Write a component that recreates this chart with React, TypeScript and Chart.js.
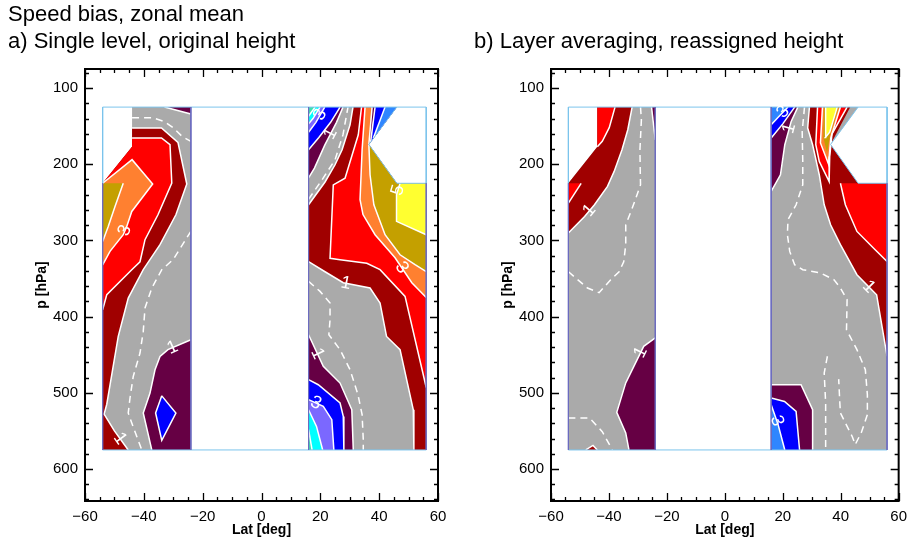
import React, { useEffect, useRef } from 'react';
import { Chart, registerables } from 'chart.js';

Chart.register(...registerables);

type Pt = [number, number];

const FONT = '"Liberation Sans", Arial, Helvetica, sans-serif';

// ---------- axes ----------
const LAT_MIN = -60;
const LAT_MAX = 60;
const LAT_TICKS = [-60, -40, -20, 0, 20, 40, 60];
const LAT_MINOR_STEP = 5;
const P_MIN = 75;
const P_MAX = 642;
const P_TICKS = [100, 200, 300, 400, 500, 600];
const P_MINOR_STEP = 20;

// ---------- grid extent (lat in deg, p in hPa) ----------
const LAT_W: Pt = [-54, -24];
const LAT_E: Pt = [16, 56];
const P_TOP = 125;
const P_BOT = 575;
// borders of the missing-data corners
const W_GAP: Pt[] = [[-44, 177], [-54, 225]];
const E_GAP: Pt[] = [[46, 125], [36.5, 174], [46, 225], [56, 225]];

// ---------- colour levels ----------
const C = {
  m5: '#40e0b0',
  m4: '#00ffff',
  m3: '#7b68ff',
  m3b: '#2f86ff',
  m2: '#0000ff',
  m1: '#660044',
  z: '#aaaaaa',
  p1: '#a00000',
  p2: '#ff0000',
  p3: '#ff8030',
  p4: '#c4a000',
  p5: '#ffff30',
};

// ================= a) single level, original height =================
// west block
const A_W_1: Pt[] = [[-44, 152.5], [-34, 152.5], [-28.4, 171.4], [-25.4, 226], [-29.1, 266.3], [-34.5, 305.6], [-40.2, 338.4], [-45.3, 375.6], [-48.7, 426], [-52.6, 515], [-53.5, 528], [-50, 550], [-45.3, 575]];
const A_W_2: Pt[] = [[-44, 165.6], [-34, 165.6], [-31.1, 174.4], [-30.5, 224.7], [-35.2, 266.3], [-39.6, 299], [-41.3, 328], [-44.1, 338.4], [-52.6, 371.3], [-54, 391]];
const A_W_3: Pt[] = [[-54, 225], [-44, 194], [-37, 226], [-44.1, 262], [-45.8, 281.6], [-47, 292.5], [-51.5, 314.4], [-54, 332]];
const A_W_4: Pt[] = [[-47, 225], [-49.8, 255.4], [-52.1, 281.6], [-54, 301.3]];
const A_W_M1A: Pt[] = [[-33, 125], [-24, 134]];
const A_W_M1B: Pt[] = [[-24, 430.3], [-31.8, 443.4], [-34.5, 452.3], [-36.2, 469.7], [-37.9, 500.3], [-40.2, 526.5], [-37.3, 575]];
const A_W_M2: Pt[] = [[-33.9, 504], [-29.1, 526.5], [-33.9, 562.5], [-36, 526.5]];
const A_W_0A: Pt[] = [[-44, 139], [-37, 139], [-33, 144], [-30, 152], [-27, 163.5], [-24, 170]];
const A_W_0B: Pt[] = [[-24, 288], [-30, 325], [-33.9, 338.4], [-37.3, 362.5], [-39.6, 388.7], [-40.2, 419.4], [-41.3, 447.8], [-43.6, 478.5], [-44.7, 506.8], [-45.3, 526.5], [-44.1, 539.6], [-42.4, 557.2], [-40.7, 575]];
// east block
const A_E_1U: Pt[] = [[16, 253.2], [21.6, 223.3], [25, 200.7], [27.4, 181], [30.1, 148.2], [31.1, 125]];
const A_E_1L: Pt[] = [[16, 327.9], [21.6, 341.1], [27.8, 355.5], [36.9, 362.5], [40.3, 382.1], [42.5, 426], [47.1, 443.4], [51.6, 522.2], [51.8, 575]];
const A_E_2: Pt[] = [[34, 125], [32.9, 161.3], [28.4, 218.4], [24.4, 227.2], [23.3, 323.4], [26.7, 325.3], [35.8, 329.9], [40.3, 338.4], [48.8, 373.5], [56, 493]];
const A_E_3: Pt[] = [[35.2, 125], [34.2, 181], [33.5, 246.6], [34.5, 266], [38.6, 292.5], [45.4, 322.7], [51.1, 355.5], [56, 375]];
const A_E_4: Pt[] = [[36.5, 174], [36.9, 213.8], [38.2, 253.2], [42, 292.5], [47.1, 318.8], [52.2, 331.9], [56, 341]];
const A_E_5: Pt[] = [[47.1, 225], [45.9, 240], [45.9, 275], [56, 292.5]];
const A_E_M1A: Pt[] = [[27.7, 125], [25.5, 145], [21.5, 175], [18, 205], [16, 218]];
const A_E_M2A: Pt[] = [[26.7, 125], [23.5, 145], [19.5, 165], [16, 181]];
const A_E_M3A: Pt[] = [[21.5, 125], [18.5, 145], [16, 158]];
const A_E_M4A: Pt[] = [[19.9, 125], [17.5, 140], [16, 147]];
const A_E_M5A: Pt[] = [[18.2, 125], [16, 137]];
const A_E_M1W: Pt[] = [[37.6, 125], [36.5, 174]];
const A_E_M2W: Pt[] = [[38.6, 125], [37.1, 171]];
const A_E_M3W: Pt[] = [[42, 125], [38, 166]];
const A_E_M1B: Pt[] = [[16, 423.8], [21, 465.3], [26.7, 487.2], [30.7, 522.2], [31.2, 575]];
const A_E_M2B: Pt[] = [[16, 482.8], [19.3, 489.4], [26.7, 513.4], [27.8, 531], [28, 575]];
const A_E_M3B: Pt[] = [[16, 509], [21, 517.8], [23.9, 535.3], [24.6, 575]];
const A_E_M4B: Pt[] = [[16, 522.2], [18.7, 544.1], [20.8, 575]];
const A_E_M5B: Pt[] = [[16, 548.4], [17.2, 575]];
const A_E_0A: Pt[] = [[16, 246], [20.6, 220.3], [25, 194.1], [27.7, 161.3], [29.4, 125]];
const A_E_0B: Pt[] = [[16, 353.8], [19.9, 366.9], [23.3, 382.1], [23.3, 404], [22.9, 423.7], [26.7, 443.4], [30.1, 469.7], [32.8, 502.5], [34.2, 528.7], [34.6, 561.5], [34.6, 575]];

// ================= b) layer averaging, reassigned height =================
// west block
const B_W_1: Pt[] = [[-32, 125], [-33.5, 154.7], [-35.5, 181], [-38.2, 209.4], [-40.5, 229.1], [-45, 253.1], [-48.4, 268.5], [-54, 290.3]];
const B_W_2A: Pt[] = [[-37.9, 125], [-39.9, 152], [-42.3, 170], [-44, 177]];
const B_W_2B: Pt[] = [[-49.6, 225], [-54, 251]];
const B_W_1B: Pt[] = [[-48, 575], [-45.5, 569], [-44, 575]];
const B_W_M1A: Pt[] = [[-25.3, 125], [-24, 168]];
const B_W_M1B: Pt[] = [[-24, 428], [-28, 439], [-31.4, 465.3], [-34.2, 487], [-37.3, 525.7], [-34.2, 552.7], [-33.1, 575]];
const B_W_0A: Pt[] = [[-29.1, 125], [-28.8, 141.6], [-29.3, 181], [-29.2, 207.2], [-29.1, 226.9], [-30.9, 246.6], [-32.6, 264], [-34.2, 279.4], [-34.2, 305.6], [-34.9, 328], [-36.5, 341.1], [-39.4, 351.6], [-43.4, 368.6], [-47.4, 362.5], [-54, 341]];
const B_W_0B: Pt[] = [[-54, 533], [-46.7, 533], [-42.3, 551], [-38.8, 575]];
// east block
const B_E_1: Pt[] = [[29.2, 125], [28.6, 152.5], [30.3, 174.4], [32.6, 213.8], [34.3, 253.2], [36.5, 279.4], [39.9, 305.6], [45.6, 345], [52.4, 371.3], [56, 452]];
const B_E_2W: Pt[] = [[32, 125], [42.2, 125], [37, 160], [36.2, 190], [36, 222.6], [32.6, 196.3], [31.4, 174.4]];
const B_E_3W: Pt[] = [[33.7, 125], [39.9, 125], [36.6, 165], [35.8, 200], [33, 172]];
const B_E_4W: Pt[] = [[34.3, 125], [39.3, 125], [36.4, 160], [35.3, 185], [34, 165]];
const B_E_5W: Pt[] = [[34.8, 125], [38.8, 125], [36.2, 158], [34.7, 165]];
const B_E_2: Pt[] = [[39.9, 225], [41.6, 253.2], [45.6, 288.2], [51.8, 312], [56, 327.6]];
const B_E_M1A: Pt[] = [[25.2, 125], [22.9, 143.8], [20.7, 174.4], [19.2, 213.8], [16, 235.7]];
const B_E_M2A: Pt[] = [[24.1, 125], [20, 147], [16, 165.6]];
const B_E_M3A: Pt[] = [[21.8, 125], [18.5, 138], [16, 148.2]];
const B_E_M1B: Pt[] = [[16, 489.4], [26.3, 489.4], [30.3, 522.2], [30.3, 575]];
const B_E_M2B: Pt[] = [[16, 506.8], [20.6, 511.3], [24.6, 524.4], [25.8, 575]];
const B_E_M3B: Pt[] = [[16, 515.6], [18.4, 541.9], [20.7, 575]];
const B_E_0A: Pt[] = [[27.5, 125], [26.7, 157.3], [26.9, 196.3], [26.9, 226.9], [24.6, 253.2], [21.8, 272.8], [21.6, 292.5], [22.4, 314.4], [24.1, 331.9], [26.9, 338.4], [33.1, 342.8], [37.7, 351.6], [39.9, 362.5], [42.2, 377.8], [42, 417.2], [45.6, 443.4], [48.5, 469.7], [49.2, 502.5], [49.2, 528.7], [47.1, 552.3], [45, 568], [44, 557.6], [42.2, 544.1], [39.9, 526.5], [39.7, 513.4], [39.3, 482]];
const B_E_0B: Pt[] = [[35.4, 452], [34.3, 474], [34.8, 513], [34.8, 575]];

// ---------- helpers ----------
const join = (...parts: Pt[][]): Pt[] => ([] as Pt[]).concat(...parts);
const rev = (a: Pt[]): Pt[] => [...a].reverse();
const ring = (a: Pt[]): Pt[] => [...a, a[0]];
const openTop = (a: Pt[]): Pt[] => [...a.slice(1), a[0]];

const GRAY_W: Pt[] = [[W_GAP[0][0], P_TOP], [LAT_W[1], P_TOP], [LAT_W[1], P_BOT], [LAT_W[0], P_BOT], W_GAP[1], W_GAP[0]];
const GRAY_E: Pt[] = [[LAT_E[0], P_TOP], ...E_GAP, [LAT_E[1], P_BOT], [LAT_E[0], P_BOT]];

type Fill = { pts: Pt[]; color: string };
type Line = { pts: Pt[]; color?: string; width?: number; dash?: number[] };
type Label = { on: Pt[]; seg: number; t: number; text: string };
type PanelSpec = { fills: Fill[]; lines: Line[]; labels: Label[] };

const EDGE_LIGHT = '#7cc4ec';
const EDGE_DARK = '#6c6cc0';
const edges: Line[] = [
  { pts: [[LAT_W[0], P_TOP], [LAT_E[1], P_TOP]], color: EDGE_LIGHT, width: 1 },
  { pts: [[LAT_W[0], P_BOT], [LAT_E[1], P_BOT]], color: EDGE_LIGHT, width: 1 },
  { pts: [[LAT_W[0], P_TOP], W_GAP[1]], color: EDGE_LIGHT, width: 1 },
  { pts: [[LAT_E[1], P_TOP], [LAT_E[1], 225]], color: EDGE_LIGHT, width: 1 },
  { pts: E_GAP, color: EDGE_LIGHT, width: 1 },
  { pts: [W_GAP[1], [LAT_W[0], P_BOT]], color: EDGE_DARK, width: 1 },
  { pts: [[LAT_W[1], P_TOP], [LAT_W[1], P_BOT]], color: EDGE_DARK, width: 1 },
  { pts: [[LAT_E[0], P_TOP], [LAT_E[0], P_BOT]], color: EDGE_DARK, width: 1 },
  { pts: [[LAT_E[1], 225], [LAT_E[1], P_BOT]], color: EDGE_DARK, width: 1 },
];

const DASH = [7, 5];
const solid = (...ls: Pt[][]): Line[] => ls.map((pts) => ({ pts }));
const dashed = (...ls: Pt[][]): Line[] => ls.map((pts) => ({ pts, dash: DASH }));

const PANEL_A: PanelSpec = {
  fills: [
    { pts: GRAY_W, color: C.z },
    { pts: GRAY_E, color: C.z },
    { pts: join(A_W_1, [[LAT_W[0], P_BOT]], rev(W_GAP)), color: C.p1 },
    { pts: join(A_W_2, rev(W_GAP)), color: C.p2 },
    { pts: A_W_3, color: C.p3 },
    { pts: join([W_GAP[1]], A_W_4), color: C.p4 },
    { pts: join(A_E_1U, E_GAP, [[LAT_E[1], P_BOT]], rev(A_E_1L)), color: C.p1 },
    { pts: join(A_E_2, rev(E_GAP)), color: C.p2 },
    { pts: join(A_E_3, rev(E_GAP).slice(0, 3), [[37.6, P_TOP]]), color: C.p3 },
    { pts: join(A_E_4, [[56, 225], [46, 225]]), color: C.p4 },
    { pts: join(A_E_5, [[56, 225]]), color: C.p5 },
    { pts: join(A_W_M1A, [[LAT_W[1], P_TOP]]), color: C.m1 },
    { pts: join(A_W_M1B, [[LAT_W[1], P_BOT]]), color: C.m1 },
    { pts: A_W_M2, color: C.m2 },
    { pts: join(A_E_M1A, [[LAT_E[0], P_TOP]]), color: C.m1 },
    { pts: join(A_E_M2A, [[LAT_E[0], P_TOP]]), color: C.m2 },
    { pts: join(A_E_M3A, [[LAT_E[0], P_TOP]]), color: C.m3 },
    { pts: join(A_E_M4A, [[LAT_E[0], P_TOP]]), color: C.m4 },
    { pts: join(A_E_M5A, [[LAT_E[0], P_TOP]]), color: C.m5 },
    { pts: join(A_E_M1W, [E_GAP[0]]), color: C.m1 },
    { pts: join(A_E_M2W, [E_GAP[0]]), color: C.m2 },
    { pts: join(A_E_M3W, [E_GAP[0]]), color: C.m3b },
    { pts: join(A_E_M1B, [[LAT_E[0], P_BOT]]), color: C.m1 },
    { pts: join(A_E_M2B, [[LAT_E[0], P_BOT]]), color: C.m2 },
    { pts: join(A_E_M3B, [[LAT_E[0], P_BOT]]), color: C.m3 },
    { pts: join(A_E_M4B, [[LAT_E[0], P_BOT]]), color: C.m4 },
    { pts: join(A_E_M5B, [[LAT_E[0], P_BOT]]), color: C.m5 },
  ],
  lines: [
    ...solid(A_W_1, A_W_2, A_W_3, A_W_4, A_W_M1A, A_W_M1B, ring(A_W_M2)),
    ...solid(A_E_1U, A_E_1L, A_E_2, A_E_3, A_E_4, A_E_5),
    ...solid(A_E_M1A, A_E_M2A, A_E_M3A, A_E_M4A, A_E_M5A, A_E_M1W, A_E_M2W, A_E_M3W),
    ...solid(A_E_M1B, A_E_M2B, A_E_M3B, A_E_M4B, A_E_M5B),
    ...dashed(A_W_0A, A_W_0B, A_E_0A, A_E_0B),
    ...edges,
  ],
  labels: [
    { on: A_W_3, seg: 4, t: 0.5, text: '3' },
    { on: A_W_1, seg: 11, t: 0.4, text: '1' },
    { on: A_W_M1B, seg: 0, t: 0.8, text: '1' },
    { on: A_E_5, seg: 0, t: 0.6, text: '5' },
    { on: A_E_3, seg: 5, t: 0.4, text: '3' },
    { on: A_E_1L, seg: 2, t: 0.1, text: '1' },
    { on: A_E_M3A, seg: 0, t: 0.5, text: '3' },
    { on: A_E_M1A, seg: 1, t: 0.5, text: '1' },
    { on: A_E_M3B, seg: 0, t: 0.5, text: '3' },
    { on: A_E_M1B, seg: 0, t: 0.6, text: '1' },
  ],
};

const PANEL_B: PanelSpec = {
  fills: [
    { pts: GRAY_W, color: C.z },
    { pts: GRAY_E, color: C.z },
    { pts: join(B_W_1, rev(W_GAP), [[W_GAP[0][0], P_TOP]]), color: C.p1 },
    { pts: join(B_W_2A, [[W_GAP[0][0], P_TOP]]), color: C.p2 },
    { pts: join(B_W_2B, [W_GAP[1]]), color: C.p2 },
    { pts: B_W_1B, color: C.p1 },
    { pts: join(B_E_1, rev(E_GAP).slice(0, 3), [[43.3, P_TOP]]), color: C.p1 },
    { pts: B_E_2W, color: C.p2 },
    { pts: B_E_3W, color: C.p3 },
    { pts: B_E_4W, color: C.p4 },
    { pts: B_E_5W, color: C.p5 },
    { pts: join(B_E_2, [[56, 225]]), color: C.p2 },
    { pts: join(B_W_M1A, [[LAT_W[1], P_TOP]]), color: C.m1 },
    { pts: join(B_W_M1B, [[LAT_W[1], P_BOT]]), color: C.m1 },
    { pts: join(B_E_M1A, [[LAT_E[0], P_TOP]]), color: C.m1 },
    { pts: join(B_E_M2A, [[LAT_E[0], P_TOP]]), color: C.m2 },
    { pts: join(B_E_M3A, [[LAT_E[0], P_TOP]]), color: C.m3b },
    { pts: join(B_E_M1B, [[LAT_E[0], P_BOT]]), color: C.m1 },
    { pts: join(B_E_M2B, [[LAT_E[0], P_BOT]]), color: C.m2 },
    { pts: join(B_E_M3B, [[LAT_E[0], P_BOT]]), color: C.m3b },
  ],
  lines: [
    ...solid(B_W_1, B_W_2A, B_W_2B, B_W_1B, B_W_M1A, B_W_M1B),
    ...solid(B_E_1, openTop(B_E_2W), openTop(B_E_3W), openTop(B_E_5W), B_E_2),
    ...solid(B_E_M1A, B_E_M2A, B_E_M3A, B_E_M1B, B_E_M2B, B_E_M3B),
    ...dashed(B_W_0A, B_W_0B, B_E_0A, B_E_0B),
    ...edges,
  ],
  labels: [
    { on: B_W_1, seg: 5, t: 0.5, text: '1' },
    { on: B_W_M1B, seg: 1, t: 0.3, text: '1' },
    { on: B_E_1, seg: 7, t: 0.6, text: '1' },
    { on: B_E_M3A, seg: 0, t: 0.5, text: '3' },
    { on: B_E_M1A, seg: 1, t: 0.3, text: '1' },
    { on: B_E_M3B, seg: 0, t: 0.8, text: '3' },
  ],
};

// ---------- chart plumbing ----------
const PLOT = { left: 85, top: 69, right: 438, bottom: 501 };
const MAJOR_TICK = 8;
const MINOR_TICK = 4;

const xy = (pts: Pt[]) => pts.map(([x, y]) => ({ x, y }));

function framePlugin(spec: PanelSpec) {
  return {
    id: 'idlFrame',
    afterDraw(chart: any) {
      const { ctx, chartArea: a, scales } = chart;
      const xs = scales.x;
      const ys = scales.y;
      ctx.save();

      // contour labels, oriented along their contour segment
      ctx.fillStyle = '#ffffff';
      ctx.font = `18px ${FONT}`;
      ctx.textAlign = 'center';
      ctx.textBaseline = 'middle';
      for (const lb of spec.labels) {
        const [x0, y0] = lb.on[lb.seg];
        const [x1, y1] = lb.on[lb.seg + 1];
        const px0 = xs.getPixelForValue(x0);
        const py0 = ys.getPixelForValue(y0);
        const px1 = xs.getPixelForValue(x1);
        const py1 = ys.getPixelForValue(y1);
        let ang = Math.atan2(py1 - py0, px1 - px0);
        if (ang > Math.PI / 2) ang -= Math.PI;
        if (ang < -Math.PI / 2) ang += Math.PI;
        ctx.save();
        ctx.translate(px0 + (px1 - px0) * lb.t, py0 + (py1 - py0) * lb.t);
        ctx.rotate(ang);
        ctx.fillText(lb.text, 0, 0);
        ctx.restore();
      }

      // box
      ctx.strokeStyle = '#000';
      ctx.lineWidth = 2;
      ctx.strokeRect(a.left, a.top, a.right - a.left, a.bottom - a.top);

      // inward ticks on all four sides
      ctx.lineWidth = 1.3;
      ctx.beginPath();
      for (let v = LAT_MIN; v <= LAT_MAX; v += LAT_MINOR_STEP) {
        const px = Math.round(xs.getPixelForValue(v)) + 0.5;
        const len = LAT_TICKS.includes(v) ? MAJOR_TICK : MINOR_TICK;
        ctx.moveTo(px, a.bottom);
        ctx.lineTo(px, a.bottom - len);
        ctx.moveTo(px, a.top);
        ctx.lineTo(px, a.top + len);
      }
      const pStart = Math.ceil(P_MIN / P_MINOR_STEP) * P_MINOR_STEP;
      for (let v = pStart; v <= P_MAX; v += P_MINOR_STEP) {
        const py = Math.round(ys.getPixelForValue(v)) + 0.5;
        const len = P_TICKS.includes(v) ? MAJOR_TICK : MINOR_TICK;
        ctx.moveTo(a.left, py);
        ctx.lineTo(a.left + len, py);
        ctx.moveTo(a.right, py);
        ctx.lineTo(a.right - len, py);
      }
      ctx.stroke();

      // axis titles
      ctx.fillStyle = '#000';
      ctx.font = `bold 14px ${FONT}`;
      ctx.textAlign = 'center';
      ctx.textBaseline = 'middle';
      ctx.fillText('Lat [deg]', (a.left + a.right) / 2, 530);
      ctx.save();
      ctx.translate(42, (a.top + a.bottom) / 2);
      ctx.rotate(-Math.PI / 2);
      ctx.fillText('p [hPa]', 0, 0);
      ctx.restore();

      ctx.restore();
    },
  };
}

function buildConfig(spec: PanelSpec, width: number): any {
  const datasets: any[] = [];
  for (const f of spec.fills) {
    datasets.push({
      data: xy(f.pts),
      fill: 'shape',
      backgroundColor: f.color,
      borderColor: 'rgba(0,0,0,0)',
      borderWidth: 0,
      pointRadius: 0,
      pointHitRadius: 0,
    });
  }
  for (const l of spec.lines) {
    datasets.push({
      data: xy(l.pts),
      fill: false,
      borderColor: l.color ?? '#ffffff',
      borderWidth: l.width ?? 1.5,
      borderDash: l.dash ?? [],
      pointRadius: 0,
      pointHitRadius: 0,
    });
  }
  // earlier entries are painted first
  datasets.forEach((d, i) => (d.order = -i));

  const tickFont = { family: FONT, size: 15 };
  return {
    type: 'line',
    data: { datasets },
    options: {
      animation: false,
      responsive: false,
      maintainAspectRatio: false,
      events: [],
      layout: { padding: { left: 0, top: PLOT.top, right: width - PLOT.right, bottom: 0 } },
      plugins: { legend: { display: false }, tooltip: { enabled: false }, title: { display: false } },
      scales: {
        x: {
          type: 'linear',
          min: LAT_MIN,
          max: LAT_MAX,
          grid: { display: false, drawTicks: false },
          border: { display: false },
          afterBuildTicks: (s: any) => {
            s.ticks = LAT_TICKS.map((value) => ({ value }));
          },
          afterFit: (s: any) => {
            s.height = 541 - PLOT.bottom;
          },
          ticks: {
            font: tickFont,
            color: '#000',
            padding: 7,
            maxRotation: 0,
            autoSkip: false,
            callback: (v: number) => (v < 0 ? '\u2212' + Math.abs(v) : String(v)),
          },
        },
        y: {
          type: 'linear',
          reverse: true,
          min: P_MIN,
          max: P_MAX,
          grid: { display: false, drawTicks: false },
          border: { display: false },
          afterBuildTicks: (s: any) => {
            s.ticks = P_TICKS.map((value) => ({ value }));
          },
          afterFit: (s: any) => {
            s.width = PLOT.left;
          },
          ticks: { font: tickFont, color: '#000', padding: 7, autoSkip: false },
        },
      },
    },
    plugins: [framePlugin(spec)],
  };
}

function Panel({ left, width, spec }: { left: number; width: number; spec: PanelSpec }) {
  const ref = useRef<HTMLCanvasElement>(null);
  useEffect(() => {
    const chart = new Chart(ref.current as HTMLCanvasElement, buildConfig(spec, width));
    return () => chart.destroy();
  }, [spec, width]);
  return (
    <canvas
      ref={ref}
      width={width}
      height={541}
      style={{ position: 'absolute', left, top: 0, width, height: 541 }}
    />
  );
}

const headStyle: React.CSSProperties = {
  position: 'absolute',
  fontFamily: FONT,
  fontSize: 22,
  lineHeight: '27px',
  color: '#000',
  whiteSpace: 'pre',
};

export default function App() {
  return (
    <div style={{ position: 'absolute', left: 0, top: 0, width: 914, height: 541, background: '#fff', overflow: 'hidden' }}>
      <Panel left={0} width={457} spec={PANEL_A} />
      <Panel left={466} width={448} spec={PANEL_B} />
      <div style={{ ...headStyle, left: 8, top: 0 }}>{'Speed bias, zonal mean\na) Single level, original height'}</div>
      <div style={{ ...headStyle, left: 474, top: 27 }}>b) Layer averaging, reassigned height</div>
    </div>
  );
}
